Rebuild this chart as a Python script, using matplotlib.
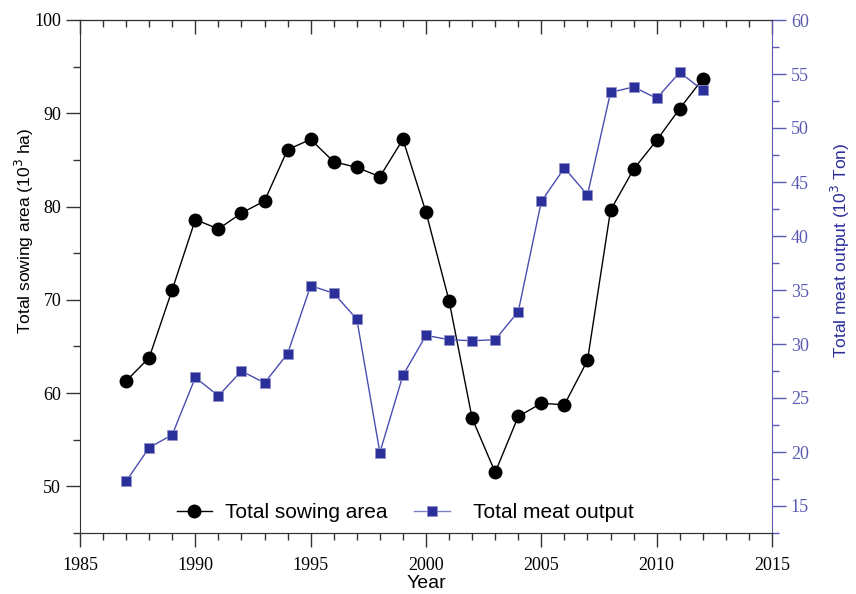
import matplotlib
matplotlib.use('Agg')
import matplotlib.pyplot as plt
from matplotlib.ticker import MultipleLocator
from matplotlib.lines import Line2D

# data
years = [1987, 1988, 1989, 1990, 1991, 1992, 1993, 1994, 1995, 1996, 1997, 1998, 1999,
         2000, 2001, 2002, 2003, 2004, 2005, 2006, 2007, 2008, 2009, 2010, 2011, 2012]
sowing_area = [61.3, 63.8, 71.1, 78.6, 77.6, 79.3, 80.6, 86.1, 87.2, 84.8, 84.2, 83.2, 87.2,
               79.4, 69.9, 57.3, 51.5, 57.5, 58.9, 58.75, 63.5, 79.6, 84.0, 87.1, 90.5, 93.7]
meat_output = [17.3, 20.4, 21.6, 26.9, 25.2, 27.5, 26.4, 29.1, 35.4, 34.7, 32.3, 19.95, 27.1,
               30.8, 30.4, 30.3, 30.4, 33.0, 43.2, 46.3, 43.8, 53.3, 53.8, 52.75, 55.15, 53.5]

blue = '#2b2f9a'
line_blue = '#4a4db0'
axis_blue = '#5a5ab4'
tick_font = 'Liberation Serif'
label_font = 'Liberation Sans'

fig = plt.figure(figsize=(8.56, 5.94), dpi=100)
ax = fig.add_axes([80/856, 61/594, 692/856, 513/594])
ax2 = ax.twinx()

ax.plot(years, sowing_area, color='black', lw=1.0, marker='o', ms=9,
        markerfacecolor='black', markeredgecolor='black', zorder=3)
ax2.plot(years, meat_output, color=line_blue, lw=1.0, marker='s', ms=7.5,
         markerfacecolor=blue, markeredgecolor='#8f91c8', markeredgewidth=0.6, zorder=3)

ax.set_xlim(1985, 2015)
ax.set_ylim(45, 100)
ax2.set_ylim(12.5, 60)

ax.xaxis.set_major_locator(MultipleLocator(5))
ax.xaxis.set_minor_locator(MultipleLocator(1))
ax.yaxis.set_major_locator(MultipleLocator(10))
ax.yaxis.set_minor_locator(MultipleLocator(5))
ax2.yaxis.set_minor_locator(MultipleLocator(2.5))
ax2.set_yticks([15, 20, 25, 30, 35, 40, 45, 50, 55, 60])

spine_col = '#333333'
for s in ['left', 'bottom', 'top']:
    ax.spines[s].set_color(spine_col)
    ax2.spines[s].set_color(spine_col)
ax.spines['right'].set_visible(False)
ax2.spines['left'].set_visible(False)
ax2.spines['right'].set_color(axis_blue)

ax.tick_params(axis='both', which='major', direction='out', length=10, width=1,
               color=spine_col, labelsize=13)
ax.tick_params(axis='x', which='major', pad=7)
ax.tick_params(axis='both', which='minor', direction='out', length=5, width=1, color=spine_col)
ax2.tick_params(axis='y', which='major', direction='out', length=10, width=1,
                color=axis_blue, labelcolor=axis_blue, labelsize=13)
ax2.tick_params(axis='y', which='minor', direction='out', length=5, width=1, color=axis_blue)

# top ticks point inward
top = ax.secondary_xaxis('top')
top.xaxis.set_major_locator(MultipleLocator(5))
top.xaxis.set_minor_locator(MultipleLocator(1))
top.tick_params(which='major', direction='in', length=10, width=1, color=spine_col, labeltop=False)
top.tick_params(which='minor', direction='in', length=5, width=1, color=spine_col)
top.spines['top'].set_color(spine_col)

for lab in ax.get_xticklabels() + ax.get_yticklabels() + ax2.get_yticklabels():
    lab.set_fontfamily(tick_font)

ax.set_xlabel('Year', fontsize=14, family=label_font, labelpad=1)
ax.set_ylabel('Total sowing area (10$^3$ ha)', fontsize=12.5, family=label_font)
ax.yaxis.set_label_coords(-0.064, 0.589)
ax2.set_ylabel('Total meat output (10$^3$ Ton)', fontsize=12.5, family=label_font, color=blue)
ax2.yaxis.set_label_coords(1.082, 0.55)

handles = [Line2D([], [], color='black', lw=1.0, marker='o', ms=9),
           Line2D([], [], color='#7f80c8', lw=1.0, marker='s', ms=7.5,
                  markerfacecolor=blue, markeredgecolor='#8f91c8', markeredgewidth=0.6)]
ax2.legend(handles, ['Total sowing area', '  Total meat output'], loc='lower center',
           bbox_to_anchor=(0.47, -0.015), ncol=2, frameon=False, handlelength=1.7,
           columnspacing=1.3, handletextpad=0.6, prop={'family': label_font, 'size': 15})

fig.savefig('out.png', dpi=100)
